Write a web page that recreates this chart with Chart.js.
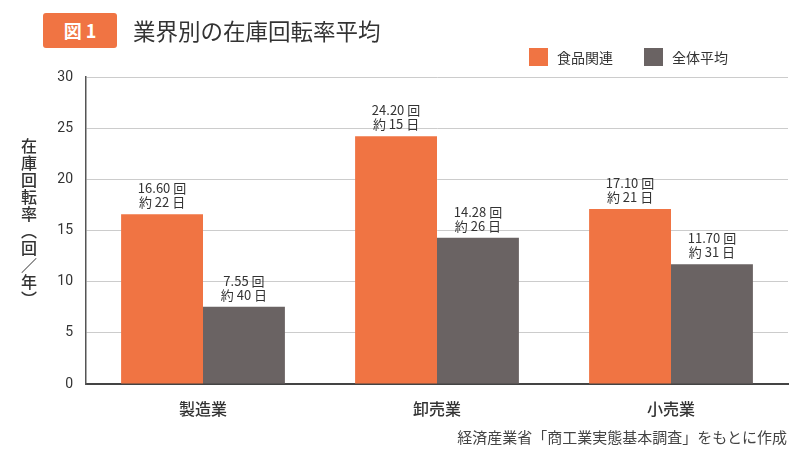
<!DOCTYPE html>
<html lang="ja">
<head>
<meta charset="utf-8">
<script src="https://cdn.jsdelivr.net/npm/chart.js@4.4.1/dist/chart.umd.min.js"></script>
<style>
  body { margin: 0; background: #fff; font-family: "Noto Sans CJK JP", "Noto Sans", sans-serif; }
  #wrap { position: relative; width: 800px; height: 450px; }
  #badge { position: absolute; left: 43px; top: 13px; width: 74px; height: 35px; border-radius: 3px;
           background: #F07443; color: #fff; font-weight: bold; font-size: 18px; line-height: 35px; text-align: center; }
  #title { position: absolute; left: 133px; top: 13px; height: 35px; line-height: 35px; font-size: 22.5px; color: #333; }
  #legend { position: absolute; left: 529px; top: 47px; font-size: 14px; color: #333; display: flex; }
  .item { display: flex; align-items: center; margin-right: 31px; }
  .sw { width: 19px; height: 18px; margin-right: 9px; }
  #ytitle { position: absolute; left: 17px; top: 138px; writing-mode: vertical-rl; text-orientation: upright;
            font-size: 16px; letter-spacing: 1px; color: #333; font-weight: 500; }
  #source { position: absolute; right: 13px; top: 426px; font-size: 15px; line-height: 22px; color: #444; }
  canvas { position: absolute; left: 0; top: 0; }
</style>
</head>
<body>
<div id="wrap">
  <canvas id="chart" width="800" height="450"></canvas>
  <div id="badge">図 1</div>
  <div id="title">業界別の在庫回転率平均</div>
  <div id="legend"></div>
  <div id="ytitle">在庫回転率（回／年）</div>
  <div id="source">経済産業省「商工業実態基本調査」をもとに作成</div>
</div>
<script>
const categories = ['製造業', '卸売業', '小売業'];
const seriesNames = ['食品関連', '全体平均'];
const foodValues = [16.60, 24.20, 17.10];
const allValues = [7.55, 14.28, 11.70];
const foodDays = [22, 15, 21];
const allDays = [40, 26, 31];
const yTicks = [0, 5, 10, 15, 20, 25, 30];
const colors = ['#F07443', '#6A6363'];

// html legend
const legendBox = document.getElementById('legend');
seriesNames.forEach((name, i) => {
    const item = document.createElement('div');
    item.className = 'item';
    item.innerHTML = '<span class="sw" style="background:' + colors[i] + '"></span><span>' + name + '</span>';
    legendBox.appendChild(item);
});

// labels over the bars: value + days
const barLabels = {
    id: 'barLabels',
    afterDatasetsDraw(chart) {
        const ctx = chart.ctx;
        const days = [foodDays, allDays];
        ctx.save();
        ctx.fillStyle = '#333';
        ctx.font = '13px "Noto Sans CJK JP"';
        ctx.textAlign = 'center';
        ctx.textBaseline = 'middle';
        chart.data.datasets.forEach((ds, d) => {
            chart.getDatasetMeta(d).data.forEach((bar, i) => {
                ctx.fillText(ds.data[i].toFixed(2) + ' 回', bar.x, bar.y - 26);
                ctx.fillText('約 ' + days[d][i] + ' 日', bar.x, bar.y - 12);
            });
        });
        ctx.restore();
    }
};

const ctx = document.getElementById('chart').getContext('2d');
new Chart(ctx, {
    type: 'bar',
    data: {
        labels: categories,
        datasets: [
            { label: seriesNames[0], data: foodValues, backgroundColor: colors[0] },
            { label: seriesNames[1], data: allValues, backgroundColor: colors[1] }
        ]
    },
    options: {
        responsive: false,
        animation: false,
        categoryPercentage: 0.7,
        barPercentage: 1.0,
        layout: { padding: { left: 0, right: 12, top: 77, bottom: 0 } },
        plugins: { legend: { display: false }, tooltip: { enabled: false } },
        scales: {
            x: {
                grid: { display: false },
                border: { color: '#444', width: 2 },
                ticks: { color: '#333', font: { family: 'Noto Sans CJK JP', size: 16, weight: '500' }, padding: 7 },
                afterFit(s) { s.height = 66; }
            },
            y: {
                min: 0,
                max: 30,
                afterBuildTicks(s) { s.ticks = yTicks.map(v => ({ value: v })); },
                grid: { color: '#ccc', drawTicks: false },
                border: { color: '#555', width: 1.5 },
                ticks: { color: '#333', font: { family: 'Roboto', size: 14 }, padding: 13 },
                afterFit(s) { s.width = 86; }
            }
        }
    },
    plugins: [barLabels]
});
</script>
</body>
</html>
